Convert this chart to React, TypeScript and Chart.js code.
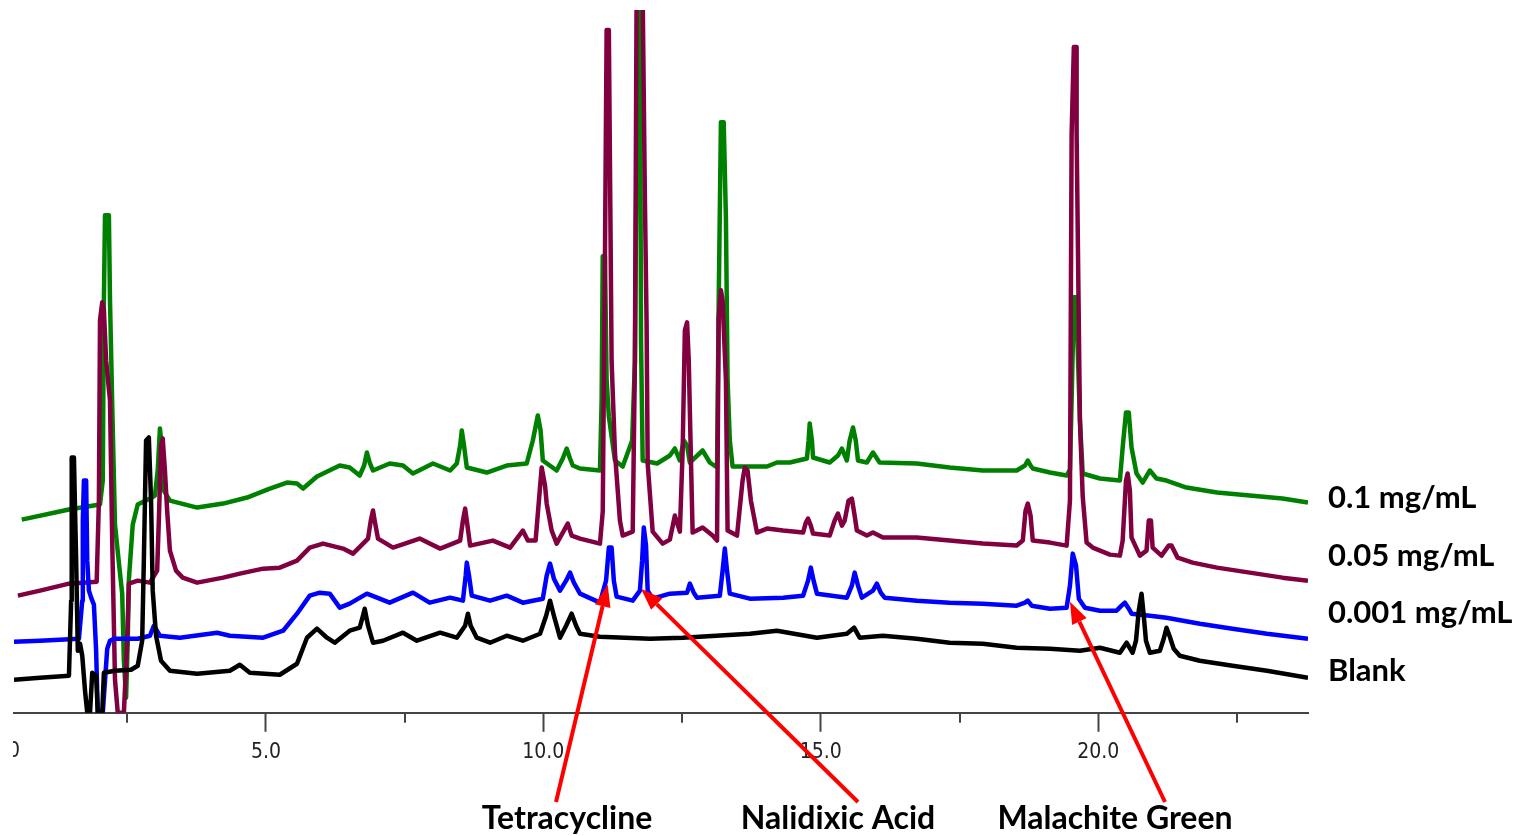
import React, { useEffect, useRef } from 'react';
import { Chart, registerables } from 'chart.js';

Chart.register(...registerables);

// retention time (min), detector response (arbitrary units)
const greenTrace: [number, number][] = [
  [0.60, 193], [1.45, 203], [2.01, 208], [2.06, 232], [2.08, 412], [2.10, 497], [2.17, 497], [2.19, 412],
  [2.23, 308], [2.28, 188], [2.35, 150], [2.41, 119], [2.44, 52], [2.48, 15], [2.51, 72], [2.53, 133],
  [2.60, 188], [2.69, 208], [2.91, 214], [3.00, 217], [3.05, 242], [3.09, 284], [3.13, 262], [3.16, 222],
  [3.27, 212], [3.76, 205], [4.23, 209], [4.66, 215], [5.07, 224], [5.38, 230], [5.56, 229], [5.67, 224],
  [5.92, 236], [6.33, 247], [6.51, 245], [6.69, 237], [6.77, 247], [6.82, 260], [6.87, 250], [6.93, 242],
  [7.23, 249], [7.47, 247], [7.65, 239], [8.01, 249], [8.32, 242], [8.44, 249], [8.50, 267], [8.53, 282],
  [8.57, 267], [8.62, 245], [8.98, 240], [9.34, 247], [9.70, 249], [9.81, 272], [9.90, 297], [9.95, 282],
  [9.99, 252], [10.24, 242], [10.35, 254], [10.42, 264], [10.48, 254], [10.53, 247], [10.66, 244],
  [11.02, 242], [11.05, 312], [11.07, 456], [11.11, 456], [11.14, 332], [11.18, 296], [11.29, 252],
  [11.43, 246], [11.60, 272], [11.65, 351], [11.70, 715], [11.74, 715], [11.76, 371], [11.79, 252],
  [12.05, 249], [12.28, 257], [12.37, 264], [12.46, 252], [12.53, 272], [12.59, 267], [12.64, 250],
  [12.87, 262], [13.00, 250], [13.13, 245], [13.16, 412], [13.20, 590], [13.25, 590], [13.29, 494],
  [13.32, 332], [13.36, 272], [13.41, 246], [14.03, 246], [14.21, 250], [14.44, 250], [14.75, 254],
  [14.78, 272], [14.80, 289], [14.84, 272], [14.86, 255], [15.16, 250], [15.31, 257], [15.38, 264],
  [15.47, 252], [15.52, 272], [15.58, 285], [15.63, 272], [15.67, 252], [15.83, 250], [15.94, 260],
  [16.06, 250], [16.73, 249], [17.32, 245], [17.92, 242], [18.53, 242], [18.68, 247], [18.73, 252],
  [18.78, 247], [18.82, 244], [19.13, 240], [19.43, 237], [19.49, 243], [19.52, 312], [19.56, 415],
  [19.60, 415], [19.63, 362], [19.67, 292], [19.72, 239], [20.03, 234], [20.39, 232], [20.44, 265],
  [20.50, 300], [20.55, 300], [20.60, 265], [20.69, 239], [20.80, 230], [20.93, 242], [21.05, 234],
  [21.23, 232], [21.59, 225], [22.14, 220], [22.73, 217], [23.32, 214], [23.78, 210],
];

const maroonTrace: [number, number][] = [
  [0.53, 117], [0.93, 122], [1.45, 129], [1.95, 131], [1.99, 212], [2.01, 392], [2.05, 410], [2.08, 402],
  [2.12, 352], [2.19, 312], [2.23, 171], [2.28, 33], [2.33, 0], [2.44, 0], [2.50, 72], [2.53, 129],
  [2.69, 132], [2.91, 130], [3.04, 142], [3.07, 192], [3.11, 267], [3.14, 274], [3.18, 242], [3.22, 202],
  [3.27, 162], [3.38, 142], [3.50, 135], [3.76, 130], [4.23, 135], [4.53, 139], [4.95, 144], [5.25, 145],
  [5.56, 152], [5.79, 165], [6.03, 169], [6.39, 164], [6.57, 159], [6.84, 174], [6.89, 192], [6.93, 202],
  [6.96, 192], [7.02, 174], [7.29, 165], [7.77, 174], [8.14, 164], [8.50, 172], [8.55, 192], [8.59, 204],
  [8.62, 192], [8.68, 167], [9.09, 172], [9.40, 165], [9.63, 182], [9.72, 172], [9.86, 172], [9.92, 212],
  [9.97, 245], [10.03, 227], [10.06, 209], [10.15, 182], [10.24, 169], [10.37, 182], [10.44, 189],
  [10.51, 177], [10.66, 174], [11.02, 169], [11.07, 201], [11.11, 454], [11.14, 682], [11.18, 682],
  [11.20, 549], [11.23, 351], [11.29, 260], [11.38, 192], [11.43, 177], [11.61, 181], [11.65, 351],
  [11.68, 715], [11.79, 715], [11.83, 512], [11.86, 391], [11.88, 249], [11.97, 181], [12.15, 169],
  [12.28, 173], [12.37, 197], [12.46, 181], [12.51, 262], [12.55, 382], [12.59, 390], [12.62, 352],
  [12.66, 252], [12.69, 180], [12.87, 185], [13.05, 177], [13.13, 172], [13.16, 395], [13.20, 422],
  [13.23, 412], [13.29, 332], [13.32, 182], [13.49, 177], [13.59, 232], [13.63, 245], [13.68, 242],
  [13.74, 212], [13.85, 180], [14.03, 184], [14.32, 182], [14.68, 180], [14.73, 190], [14.77, 194],
  [14.82, 187], [14.86, 179], [15.16, 177], [15.25, 192], [15.31, 199], [15.38, 187], [15.43, 192],
  [15.50, 212], [15.56, 214], [15.61, 197], [15.65, 182], [15.83, 177], [15.94, 180], [16.12, 175],
  [16.73, 175], [17.32, 172], [17.92, 169], [18.53, 167], [18.64, 172], [18.69, 202], [18.73, 209],
  [18.78, 197], [18.82, 172], [19.13, 170], [19.43, 167], [19.49, 212], [19.52, 578], [19.56, 665],
  [19.60, 665], [19.61, 578], [19.67, 292], [19.72, 216], [19.79, 170], [19.90, 165], [20.21, 158],
  [20.39, 157], [20.44, 172], [20.50, 232], [20.53, 239], [20.57, 222], [20.60, 175], [20.75, 157],
  [20.87, 162], [20.91, 192], [20.95, 192], [20.98, 165], [21.14, 157], [21.27, 167], [21.32, 167],
  [21.43, 155], [21.70, 150], [22.14, 145], [22.73, 140], [23.32, 135], [23.78, 132],
];

const blueTrace: [number, number][] = [
  [0.46, 71], [0.93, 72], [1.63, 74], [1.69, 112], [1.70, 192], [1.72, 232], [1.76, 232], [1.78, 152],
  [1.81, 122], [1.85, 115], [1.90, 108], [1.94, 62], [1.97, 0], [2.06, 0], [2.10, 32], [2.14, 64],
  [2.19, 72], [2.26, 74], [2.69, 74], [2.91, 77], [2.98, 87], [3.09, 77], [3.45, 75], [4.12, 80],
  [4.35, 77], [4.95, 75], [5.31, 82], [5.56, 99], [5.79, 117], [5.97, 120], [6.15, 119], [6.33, 105],
  [6.51, 109], [6.82, 119], [7.23, 110], [7.65, 120], [7.95, 110], [8.32, 115], [8.55, 112], [8.60, 137],
  [8.62, 150], [8.66, 137], [8.71, 117], [9.04, 112], [9.34, 117], [9.63, 110], [9.99, 114], [10.06, 137],
  [10.12, 149], [10.19, 134], [10.30, 122], [10.41, 132], [10.48, 140], [10.55, 130], [10.66, 119],
  [11.02, 110], [11.13, 132], [11.18, 165], [11.23, 165], [11.27, 132], [11.32, 116], [11.61, 112],
  [11.74, 122], [11.78, 152], [11.81, 185], [11.85, 167], [11.88, 122], [11.97, 114], [12.28, 119],
  [12.59, 120], [12.64, 129], [12.71, 120], [12.77, 115], [13.18, 117], [13.23, 142], [13.27, 164],
  [13.31, 142], [13.36, 119], [13.72, 114], [14.32, 115], [14.68, 117], [14.77, 132], [14.82, 145],
  [14.87, 132], [14.93, 119], [15.47, 115], [15.56, 127], [15.61, 140], [15.67, 127], [15.74, 115],
  [15.94, 122], [16.01, 129], [16.08, 120], [16.15, 115], [16.73, 112], [17.32, 110], [17.92, 109],
  [18.53, 107], [18.68, 110], [18.73, 112], [18.80, 107], [19.13, 104], [19.43, 105], [19.49, 127],
  [19.54, 159], [19.60, 147], [19.65, 114], [19.76, 105], [20.03, 102], [20.33, 102], [20.42, 107],
  [20.48, 110], [20.55, 104], [20.60, 99], [20.93, 97], [21.23, 95], [21.83, 89], [22.42, 84],
  [23.04, 79], [23.78, 74],
];

const blankTrace: [number, number][] = [
  [0.46, 33], [0.93, 35], [1.45, 37], [1.49, 112], [1.50, 255], [1.54, 255], [1.58, 152], [1.61, 62],
  [1.65, 69], [1.69, 57], [1.74, 22], [1.78, 0], [1.83, 0], [1.87, 40], [1.94, 37], [1.97, 0], [2.05, 0],
  [2.08, 40], [2.28, 42], [2.57, 43], [2.69, 47], [2.77, 72], [2.80, 152], [2.84, 272], [2.89, 275],
  [2.93, 212], [2.96, 122], [3.02, 77], [3.11, 52], [3.27, 42], [3.76, 39], [4.35, 42], [4.53, 48],
  [4.71, 40], [5.25, 38], [5.56, 49], [5.74, 75], [5.92, 84], [6.10, 75], [6.24, 70], [6.51, 82],
  [6.69, 85], [6.75, 97], [6.78, 104], [6.84, 87], [6.93, 70], [7.11, 72], [7.47, 80], [7.72, 72],
  [8.14, 80], [8.44, 75], [8.59, 87], [8.64, 99], [8.69, 87], [8.80, 75], [9.04, 70], [9.34, 77],
  [9.63, 72], [9.94, 79], [10.05, 97], [10.12, 112], [10.19, 97], [10.30, 75], [10.41, 87], [10.51, 99],
  [10.59, 87], [10.66, 79], [11.02, 76], [11.92, 74], [12.51, 75], [13.72, 79], [14.21, 82], [14.93, 75],
  [15.47, 79], [15.60, 85], [15.70, 75], [16.12, 77], [16.73, 74], [17.32, 70], [17.92, 69], [18.53, 65],
  [19.13, 64], [19.67, 62], [20.03, 65], [20.39, 60], [20.51, 70], [20.62, 60], [20.68, 72], [20.73, 102],
  [20.78, 119], [20.82, 97], [20.86, 72], [20.93, 60], [21.11, 62], [21.18, 74], [21.23, 85], [21.29, 76],
  [21.36, 64], [21.47, 57], [21.83, 52], [22.42, 47], [23.04, 42], [23.78, 35],
];

const seriesNames = ['0.1 mg/mL', '0.05 mg/mL', '0.001 mg/mL', 'Blank'];
const majorTicks = [5, 10, 15, 20];
const minorTicks = [2.5, 7.5, 12.5, 17.5, 22.5];
const timeMin = 0.46;
const timeMax = 23.78;
const responseMax = 702;

const compoundNames = ['Tetracycline', 'Nalidixic Acid', 'Malachite Green'];
const compoundTimes = [11.16, 11.76, 19.49];
const compoundLevels = [128, 124, 111];

const RIGHT_FONT = 'bold 31px Lato, "Open Sans", sans-serif';
const BOTTOM_FONT = 'bold 32px Lato, "Open Sans", sans-serif';
const TICK_FAMILY = '"DejaVu Sans Condensed", "DejaVu Sans", sans-serif';
const TICK_SIZE = 21;

const overlayPlugin = {
  id: 'overlay',
  afterDraw(chart: any) {
    const ctx: CanvasRenderingContext2D = chart.ctx;
    const xs = chart.scales.x;
    const ys = chart.scales.y;
    const area = chart.chartArea;
    ctx.save();

    // minor ticks
    ctx.strokeStyle = '#444';
    ctx.lineWidth = 2;
    minorTicks.forEach((t) => {
      const px = Math.round(xs.getPixelForValue(t));
      ctx.beginPath();
      ctx.moveTo(px, area.bottom);
      ctx.lineTo(px, area.bottom + 10);
      ctx.stroke();
    });

    // partially visible 0.0 label at left edge
    ctx.save();
    ctx.beginPath();
    ctx.rect(13, area.bottom + 20, 60, 60);
    ctx.clip();
    ctx.fillStyle = '#222';
    ctx.font = `${TICK_SIZE}px ${TICK_FAMILY}`;
    ctx.textAlign = 'right';
    ctx.textBaseline = 'middle';
    ctx.fillText('0.0', 20, 752);
    ctx.restore();

    // series labels on right
    ctx.fillStyle = '#000';
    ctx.font = RIGHT_FONT;
    ctx.textAlign = 'left';
    ctx.textBaseline = 'middle';
    const labelYs = [498, 556, 613, 671];
    seriesNames.forEach((name, i) => {
      ctx.fillText(name, 1328, labelYs[i]);
    });

    // arrows + compound names
    const tails = [
      [556, 802],
      [858, 802],
      [1165, 802],
    ];
    const textX = [567, 838, 1115];
    ctx.strokeStyle = '#ff0000';
    ctx.fillStyle = '#ff0000';
    ctx.lineWidth = 4;
    compoundNames.forEach((name, i) => {
      const hx = xs.getPixelForValue(compoundTimes[i]);
      const hy = ys.getPixelForValue(compoundLevels[i]);
      const [tx, ty] = tails[i];
      const ang = Math.atan2(hy - ty, hx - tx);
      const headLen = 22;
      const headHalf = 8;
      const bx = hx - headLen * Math.cos(ang);
      const by = hy - headLen * Math.sin(ang);
      ctx.beginPath();
      ctx.moveTo(tx, ty);
      ctx.lineTo(bx, by);
      ctx.stroke();
      ctx.beginPath();
      ctx.moveTo(hx, hy);
      ctx.lineTo(bx + headHalf * Math.sin(ang), by - headHalf * Math.cos(ang));
      ctx.lineTo(bx - headHalf * Math.sin(ang), by + headHalf * Math.cos(ang));
      ctx.closePath();
      ctx.fill();
    });
    ctx.fillStyle = '#000';
    ctx.font = BOTTOM_FONT;
    ctx.textAlign = 'center';
    ctx.textBaseline = 'alphabetic';
    compoundNames.forEach((name, i) => {
      ctx.fillText(name, textX[i], 829);
    });

    ctx.restore();
  },
};

export default function App() {
  const canvasRef = useRef<HTMLCanvasElement | null>(null);

  useEffect(() => {
    const canvas = canvasRef.current;
    if (!canvas) return;
    const toPts = (arr: [number, number][]) => arr.map(([x, y]) => ({ x, y }));
    const mk = (label: string, arr: [number, number][], color: string, order: number) => ({
      label,
      data: toPts(arr),
      borderColor: color,
      backgroundColor: color,
      borderWidth: 4.5,
      pointRadius: 0,
      tension: 0,
      fill: false,
      borderJoinStyle: 'round' as const,
      borderCapStyle: 'butt' as const,
      order,
    });
    const chart = new Chart(canvas, {
      type: 'line',
      data: {
        datasets: [
          mk(seriesNames[3], blankTrace, '#000000', 0),
          mk(seriesNames[2], blueTrace, '#0000ff', 1),
          mk(seriesNames[1], maroonTrace, '#800040', 2),
          mk(seriesNames[0], greenTrace, '#008000', 3),
        ],
      },
      options: {
        responsive: false,
        animation: false,
        devicePixelRatio: 1,
        parsing: false,
        layout: { padding: { left: 14, right: 216, top: 10, bottom: 63 } },
        plugins: {
          legend: { display: false },
          tooltip: { enabled: false },
        },
        scales: {
          x: {
            type: 'linear',
            min: timeMin,
            max: timeMax,
            afterBuildTicks: (scale: any) => {
              scale.ticks = majorTicks.map((value) => ({ value }));
            },
            border: { display: true, color: '#444', width: 2 },
            grid: {
              display: true,
              drawOnChartArea: false,
              drawTicks: true,
              tickLength: 19,
              tickColor: '#444',
              tickWidth: 2,
            },
            ticks: {
              color: '#222',
              font: { family: TICK_FAMILY, size: TICK_SIZE },
              padding: 8,
              maxRotation: 0,
              autoSkip: false,
              callback: (v: any) => Number(v).toFixed(1),
            },
          },
          y: {
            type: 'linear',
            display: false,
            min: 0,
            max: responseMax,
          },
        },
      },
      plugins: [overlayPlugin],
    });
    return () => chart.destroy();
  }, []);

  return (
    <div style={{ position: 'absolute', left: 0, top: 0, width: 1524, height: 836, background: '#fff' }}>
      <canvas ref={canvasRef} width={1524} height={836} style={{ display: 'block' }} />
    </div>
  );
}
